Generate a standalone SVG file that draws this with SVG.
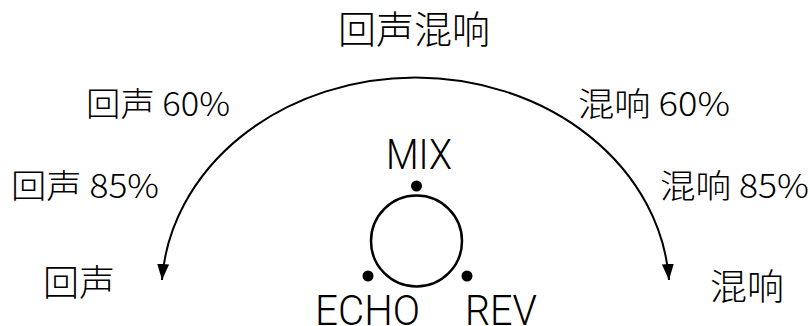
<svg xmlns="http://www.w3.org/2000/svg" width="810" height="326" viewBox="0 0 810 326">
<style>
.cjk{font-family:"Noto Sans CJK SC","Noto Sans",sans-serif;font-weight:300;fill:#000}
.lat{font-family:Roboto,"Liberation Sans Narrow","Liberation Sans",sans-serif;font-weight:300;fill:#000}
</style>
<defs>
<marker id="ah" viewBox="0 0 16 12" refX="16" refY="6" markerWidth="16" markerHeight="12" markerUnits="userSpaceOnUse" orient="auto-start-reverse">
<path d="M0,0 L16,6 L0,12 Z" fill="#000"/>
</marker>
</defs>
<rect width="810" height="326" fill="#fff"/>
<g id="connectors">
<path d="M162,280 A254,216 0 0 1 669,280" fill="none" stroke="#000" stroke-width="2" marker-start="url(#ah)" marker-end="url(#ah)"/>
</g>
<g id="knob">
<circle cx="416.5" cy="241" r="45.5" fill="none" stroke="#000" stroke-width="2.5"/>
<circle cx="416.5" cy="186" r="5.5" fill="#000"/>
<circle cx="368" cy="276" r="5.5" fill="#000"/>
<circle cx="467" cy="276" r="5.5" fill="#000"/>
</g>
<g id="title"><text class="cjk" x="338" y="43" font-size="38" textLength="152" lengthAdjust="spacingAndGlyphs">回声混响</text></g>
<g id="echo60"><text class="cjk" x="86" y="116" font-size="33" textLength="144" lengthAdjust="spacingAndGlyphs">回声 60%</text></g>
<g id="echo85"><text class="cjk" x="11" y="198" font-size="33" textLength="148" lengthAdjust="spacingAndGlyphs">回声 85%</text></g>
<g id="rev60"><text class="cjk" x="578" y="116" font-size="33" textLength="152" lengthAdjust="spacingAndGlyphs">混响 60%</text></g>
<g id="rev85"><text class="cjk" x="660" y="198" font-size="33" textLength="149" lengthAdjust="spacingAndGlyphs">混响 85%</text></g>
<g id="echo"><text class="cjk" x="43" y="296" font-size="36" textLength="72" lengthAdjust="spacingAndGlyphs">回声</text></g>
<g id="rev"><text class="cjk" x="710" y="300" font-size="36" textLength="74" lengthAdjust="spacingAndGlyphs">混响</text></g>
<g id="mix"><text class="lat" x="386" y="169" font-size="43" textLength="66" lengthAdjust="spacingAndGlyphs">MIX</text></g>
<g id="echo-label"><text class="lat" x="315" y="325" font-size="43" textLength="105" lengthAdjust="spacingAndGlyphs">ECHO</text></g>
<g id="rev-label"><text class="lat" x="465" y="325" font-size="43" textLength="72" lengthAdjust="spacingAndGlyphs">REV</text></g>
</svg>
